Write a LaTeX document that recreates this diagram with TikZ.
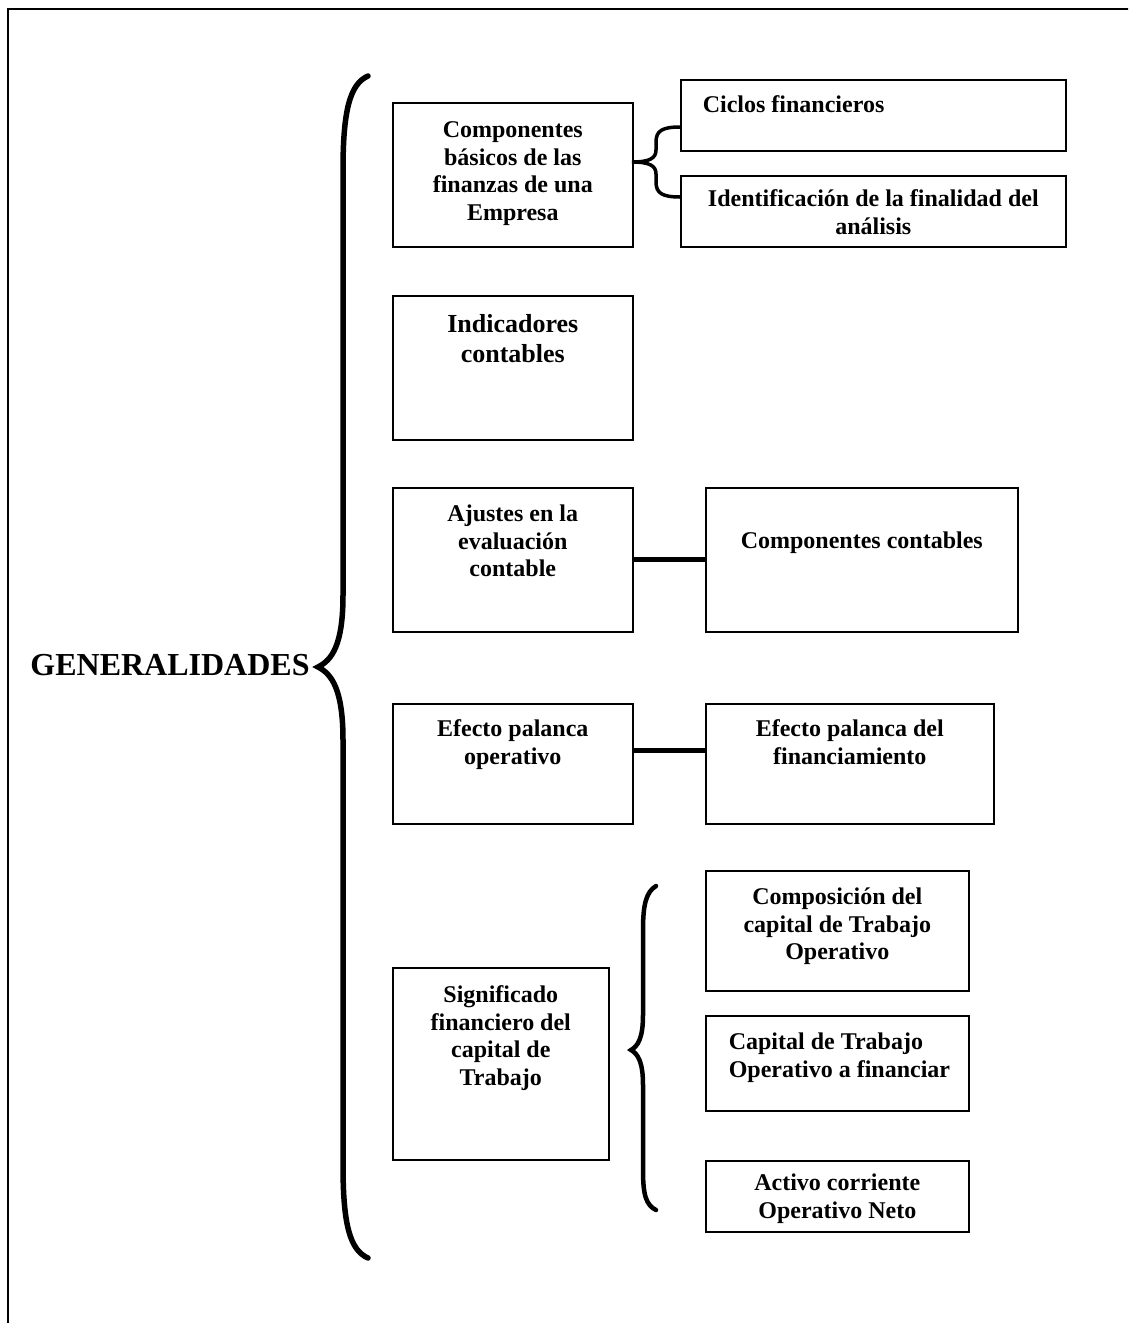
\documentclass[tikz,border=0pt]{standalone}
\usepackage{fontspec}
\setmainfont{Liberation Serif}
% box text: [alignment]{width}{height}{first baseline}{text}
\newcommand{\txt}[5][\centering]{\parbox[t][#3pt][t]{#2pt}{\vspace*{\dimexpr#4pt-\ht\strutbox\relax}#1\strut#5}}

\begin{document}
\begin{tikzpicture}[x=1pt,y=-1pt,
    caja/.style={draw,line width=1.6pt,inner sep=0pt,anchor=north west,
      font=\fontsize{24}{27.5}\selectfont\bfseries},
    conector/.style={line width=5pt},
    llave/.style={line width=#1,line cap=round}]
  \clip (0,0) rectangle (1128,1323);
  \draw[line width=1.5pt] (8,9) rectangle (1140,1340);

  \node[font=\fontsize{32}{36}\selectfont\bfseries,anchor=base] (gen) at (170,675) {GENERALIDADES};

  % first column
  \node[caja] (comp) at (392,102) {\txt{240}{144}{35}{Componentes\\básicos de las\\finanzas de una\\Empresa}};
  \node[caja,font=\fontsize{26}{30}\selectfont\bfseries] (indic) at (392,295) {\txt{240}{144}{37}{Indicadores\\contables}};
  \node[caja] (ajustes) at (392,487) {\txt{240}{144}{34}{Ajustes en la\\evaluación\\contable}};
  \node[caja] (efop) at (392,703) {\txt{240}{120}{33}{Efecto palanca\\operativo}};
  \node[caja] (signif) at (392,967) {\txt{216}{192}{35}{Significado\\financiero del\\capital de\\Trabajo}};

  % second column
  \node[caja] (ciclos) at (680,79) {\txt[\raggedright\leftskip=22pt]{385}{71}{33}{Ciclos financieros}};
  \node[caja] (ident) at (680,175) {\txt{385}{71}{31}{Identificación de la finalidad del\\análisis}};
  \node[caja] (compcont) at (705,487) {\txt{312}{144}{61}{Componentes contables}};
  \node[caja] (effin) at (705,703) {\txt{288}{120}{33}{Efecto palanca del\\financiamiento}};
  \node[caja] (compos) at (705,870) {\txt{263}{120}{34}{Composición del\\capital de Trabajo\\Operativo}};
  \node[caja] (capital) at (705,1015) {\txt[\raggedright\leftskip=23pt]{263}{95}{34}{Capital de Trabajo\\Operativo a financiar}};
  \node[caja] (activo) at (705,1160) {\txt{263}{71}{30}{Activo corriente\\Operativo Neto}};

  \draw[conector] (ajustes) -- (compcont);
  \draw[conector] ([yshift=13pt]efop.east) -- ([yshift=13pt]effin.west);

  % braces
  \draw[llave=5.5pt] (368,76) .. controls (350,84) and (343,110) .. (343,170)
    -- (343,595) .. controls (343,645) and (332,660) .. (318,667)
    .. controls (332,674) and (343,690) .. (343,740)
    -- (343,1165) .. controls (343,1225) and (350,1250) .. (368,1258);
  \draw[llave=3.5pt] (680,127) .. controls (662,127) and (656,131) .. (656,142)
    -- (656,150) .. controls (656,158) and (650,162) .. (632,162)
    .. controls (650,162) and (656,166) .. (656,174)
    -- (656,182) .. controls (656,193) and (662,197) .. (680,197);
  \draw[llave=4.5pt] (656,886) .. controls (646,892) and (643,905) .. (643,930)
    -- (643,1015) .. controls (643,1038) and (638,1046) .. (631,1050)
    .. controls (638,1054) and (643,1062) .. (643,1085)
    -- (643,1170) .. controls (643,1195) and (646,1205) .. (656,1210);
\end{tikzpicture}
\end{document}
